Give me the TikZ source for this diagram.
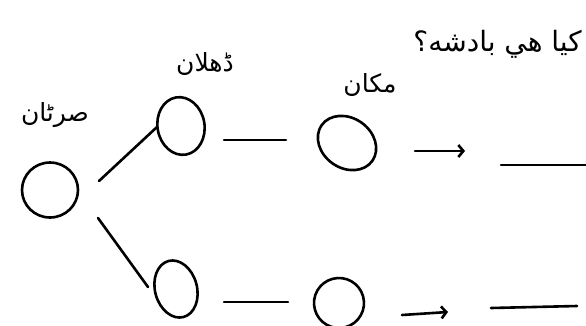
\documentclass[tikz,border=0pt]{standalone}
\usepackage{fontspec}
\newfontfamily\urdu[Script=Arabic]{DejaVu Sans}
\TeXXeTstate=1
\usetikzlibrary{shapes.geometric,arrows.meta}

\begin{document}
\begin{tikzpicture}[x=1pt, y=-1pt,
  every node/.style={inner sep=0pt},
  blob/.style={draw, ellipse, line width=2.6pt},
  lbl/.style={font=\urdu\fontsize{25}{25}\selectfont},
  link/.style={line width=2.6pt, line cap=round},
  arr/.style={link, -{Straight Barb[length=5pt,width=12pt,line width=2.6pt]}}]
\useasboundingbox (0,0) rectangle (586,325);
\clip (0,0) rectangle (586,325);

% States
\node (root) [blob, minimum width=56pt, minimum height=55pt] at (50,190) {};
\node (topA) [blob, minimum width=47pt, minimum height=58pt, rotate=10] at (181,126) {};
\node (topB) [blob, minimum width=62pt, minimum height=50pt, rotate=-35] at (347,143) {};
\node (botA) [blob, minimum width=42pt, minimum height=58pt, rotate=15] at (176,289) {};
\node (botB) [blob, minimum width=50pt, minimum height=50pt, rotate=15] at (339,303) {};

% Labels
\node (rootLbl) [lbl] at (55,115) {\beginR صرٹان\endR};
\node (topALbl) [lbl] at (205,64) {\beginR ڈھلان\endR};
\node (topBLbl) [lbl] at (370,85) {\beginR مکان\endR};
\node (question) [lbl, anchor=east, font=\urdu\fontsize{28}{28}\selectfont] at (582,44) {\beginR کیا هي بادشه؟\endR};

% Blanks at the right
\coordinate (blankTop) at (501,165);
\coordinate (blankTopEnd) at (586,165);
\coordinate (blankBot) at (491,308);
\coordinate (blankBotEnd) at (577,306);

% Branches
\draw[link] ([shift={(49,-9)}]root.center) -- ([shift={(-24,1)}]topA.center);
\draw[link] ([shift={(48,28)}]root.center) -- ([shift={(-28,-2)}]botA.center);

% Steps
\draw[link] ([shift={(43,14)}]topA.center) -- ([shift={(-61,-3)}]topB.center);
\draw[link] ([shift={(48,13)}]botA.center) -- ([shift={(-51,-1)}]botB.center);
\draw[arr] ([shift={(68,8)}]topB.center) -- ([shift={(-36,-14)}]blankTop);
\draw[arr] ([shift={(63,12)}]botB.center) -- ([shift={(-43,4)}]blankBot);
\draw[link] (blankTop) -- (blankTopEnd);
\draw[link] (blankBot) -- (blankBotEnd);
\end{tikzpicture}
\end{document}
